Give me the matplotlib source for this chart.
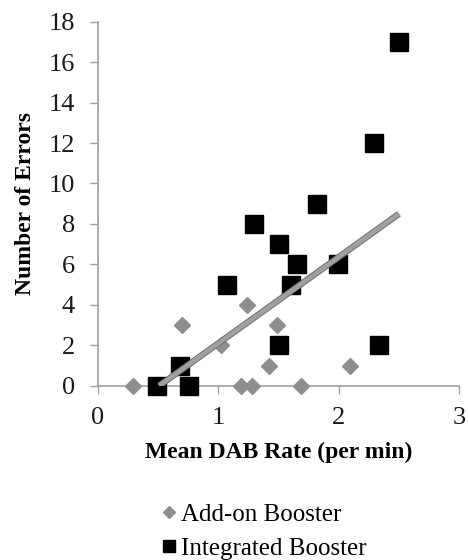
import matplotlib
matplotlib.use("Agg")
import matplotlib.pyplot as plt
from matplotlib.lines import Line2D
import matplotlib.patheffects as pe

plt.rcParams['font.family'] = ['Liberation Serif', 'DejaVu Serif']

# Add-on Booster (grey diamonds)
addon_x = [0.29, 0.70, 1.02, 1.24, 1.19, 1.28, 1.42, 1.49, 1.69, 2.09]
addon_y = [0, 3, 2, 4, 0, 0, 1, 3, 0, 1]

# Integrated Booster (black squares)
integ_x = [0.49, 0.68, 0.76, 1.07, 1.30, 1.50, 1.50, 1.60, 1.65, 1.82, 1.99, 2.29, 2.33, 2.50]
integ_y = [0, 1, 0, 5, 8, 7, 2, 5, 6, 9, 6, 12, 2, 17]

# Trend line endpoints
trend_x = [0.51, 2.50]
trend_y = [0.0, 8.5]

xticks = [0, 1, 2, 3]
yticks = [0, 2, 4, 6, 8, 10, 12, 14, 16, 18]

fig = plt.figure(figsize=(4.68, 5.6), dpi=100)
ax = fig.add_axes([0.2088, 0.3112, 0.7726, 0.6501])

grey = '#8e8e8e'
ax.plot(addon_x, addon_y, linestyle='none', marker='D', ms=8, color=grey,
        markeredgecolor=grey, zorder=3, clip_on=False)
ax.plot(integ_x, integ_y, linestyle='none', marker='s', ms=13, color='black',
        zorder=3, clip_on=False)
ax.plot(trend_x, trend_y, color='#a0a0a0', lw=3.2, solid_capstyle='butt', zorder=4,
        path_effects=[pe.Stroke(linewidth=4.6, foreground='#707070'), pe.Normal()])

ax.set_xlim(0, 3)
ax.set_ylim(0, 18)
ax.set_xticks(xticks)
ax.set_yticks(yticks)
ax.tick_params(axis='both', direction='out', length=5.5, width=1, color='#a0a0a0',
               labelsize=19, labelcolor='#1a1a1a')
ax.tick_params(axis='y', pad=11)
ax.tick_params(axis='x', pad=10)
for s in ['top', 'right']:
    ax.spines[s].set_visible(False)
for s in ['left', 'bottom']:
    ax.spines[s].set_color('#a0a0a0')
    ax.spines[s].set_linewidth(1.2)

ax.set_xlabel('Mean DAB Rate (per min)', fontsize=17, fontweight='bold', labelpad=9)
ax.set_ylabel('Number of Errors', fontsize=17, fontweight='bold', labelpad=9)

handles = [
    Line2D([], [], linestyle='none', marker='D', ms=6, color=grey, markeredgecolor=grey),
    Line2D([], [], linestyle='none', marker='s', ms=9, color='black'),
]
fig.legend(handles, ['Add-on Booster', 'Integrated Booster'], loc='center left',
           bbox_to_anchor=(0.318, 0.051), frameon=False, fontsize=18,
           handlelength=0.6, handletextpad=0.2, labelspacing=0.45, borderpad=0)

fig.savefig('out.png', dpi=100)
